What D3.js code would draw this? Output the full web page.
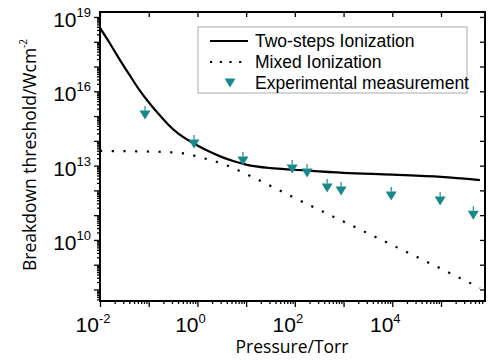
<!DOCTYPE html>
<html>
<head>
<meta charset="utf-8">
<script src="https://cdn.jsdelivr.net/npm/d3@7"></script>
<style>
  body { margin: 0; background: #fff; }
  svg { display: block; }
</style>
</head>
<body>
<div id="chart"></div>
<script>
// Two-steps ionization (solid)
const twoStepP = [0.01, 0.016, 0.025, 0.04, 0.063, 0.1, 0.16, 0.25, 0.4, 0.63, 1, 1.8, 3.2, 5.6, 10, 32, 100, 1000, 1e4, 1e5, 6.3e5];
const twoStepI = [3.6e18, 8.5e17, 2.0e17, 4.7e16, 1.2e16, 3.6e15, 1.2e15, 4.6e14, 2.0e14, 1.1e14, 6.5e13, 3.6e13, 2.2e13, 1.5e13, 1.1e13, 7.9e12, 6.8e12, 5.1e12, 4.3e12, 3.5e12, 2.6e12];

// Mixed ionization (dotted)
const mixedP = [0.01, 0.1, 0.25, 0.63, 1, 1.8, 3.2, 5.6, 10, 32, 100, 1000, 1e4, 1e5, 6.3e5];
const mixedI = [3.9e13, 3.7e13, 3.5e13, 2.95e13, 2.3e13, 1.7e13, 1.2e13, 7.7e12, 4.6e12, 1.5e12, 4.9e11, 5.5e10, 6.2e9, 6.9e8, 1.15e8];

// Experimental measurement (triangles)
const expP = [0.084, 0.85, 8.6, 88, 178, 460, 890, 9500, 9.6e4, 4.6e5];
const expI = [1.1e15, 7.5e13, 1.54e13, 7.3e12, 5.0e12, 1.25e12, 9.4e11, 5.9e11, 3.7e11, 1.0e11];

const xLabelExps = [-2, 0, 2, 4];
const yLabelExps = [10, 13, 16, 19];
const legendLabels = ['Two-steps Ionization', 'Mixed Ionization', 'Experimental measurement'];

const W = 490, H = 362;
const pLeft = 100, pRight = 485, pTop = 12, pBottom = 301;
const teal = '#17898a';

const svg = d3.select('#chart').append('svg')
  .attr('width', W).attr('height', H);

const x = d3.scaleLog().domain([1e-2, 8e5]).range([pLeft, pRight]);
const y = d3.scaleLog().domain([Math.pow(10, 7.535), Math.pow(10, 19.2)]).range([pBottom, pTop]);

// tick positions for log axes
function decades(scale) {
  const [a, b] = scale.domain();
  const out = [];
  for (let k = Math.ceil(Math.log10(a)); k <= Math.floor(Math.log10(b)); k++) out.push(Math.pow(10, k));
  return out;
}
function minors(scale) {
  const [a, b] = scale.domain();
  const out = [];
  for (let k = Math.floor(Math.log10(a)); k <= Math.ceil(Math.log10(b)); k++) {
    for (let m = 2; m <= 9; m++) {
      const v = m * Math.pow(10, k);
      if (v > a && v < b) out.push(v);
    }
  }
  return out;
}

const axisFont = 'Liberation Sans, Arial, sans-serif';

// bottom axis
svg.append('g').attr('transform', `translate(0,${pBottom})`)
  .call(d3.axisBottom(x).tickValues(minors(x)).tickSize(3).tickFormat(''));
svg.append('g').attr('transform', `translate(0,${pBottom})`)
  .call(d3.axisBottom(x).tickValues(decades(x)).tickSize(6).tickFormat(''));
// left axis
svg.append('g').attr('transform', `translate(${pLeft},0)`)
  .call(d3.axisLeft(y).tickValues(minors(y)).tickSize(3).tickFormat(''));
svg.append('g').attr('transform', `translate(${pLeft},0)`)
  .call(d3.axisLeft(y).tickValues(decades(y)).tickSize(6).tickFormat(''));
// top and right: inward ticks at decades
svg.append('g').attr('transform', `translate(0,${pTop})`)
  .call(d3.axisBottom(x).tickValues(decades(x)).tickSize(5).tickFormat(''));
svg.append('g').attr('transform', `translate(${pRight},0)`)
  .call(d3.axisLeft(y).tickValues(decades(y)).tickSize(5).tickFormat(''));

svg.selectAll('.domain').remove();
svg.selectAll('.tick line').attr('stroke', '#000').attr('stroke-width', 1.3);

// frame
svg.append('rect')
  .attr('x', pLeft).attr('y', pTop)
  .attr('width', pRight - pLeft).attr('height', pBottom - pTop)
  .attr('fill', 'none').attr('stroke', '#000').attr('stroke-width', 2);

// tick labels with superscript exponents
const xl = svg.append('g').selectAll('text').data(xLabelExps).enter().append('text')
  .attr('x', d => x(Math.pow(10, d)) - 7)
  .attr('y', pBottom + 31)
  .attr('text-anchor', 'middle')
  .attr('font-family', axisFont).attr('font-size', 21);
xl.append('tspan').text('10');
xl.append('tspan').attr('dy', -9).attr('font-size', 13).text(d => d);

const yl = svg.append('g').selectAll('text').data(yLabelExps).enter().append('text')
  .attr('x', pLeft - 9)
  .attr('y', d => y(Math.pow(10, d)) + 10)
  .attr('text-anchor', 'end')
  .attr('font-family', axisFont).attr('font-size', 21);
yl.append('tspan').text('10');
yl.append('tspan').attr('dy', -10).attr('font-size', 13).text(d => d);

// axis titles
svg.append('text')
  .attr('x', 292).attr('y', 353)
  .attr('text-anchor', 'middle')
  .attr('font-family', 'Open Sans, sans-serif').attr('font-size', 17.5)
  .text('Pressure/Torr');

const yt = svg.append('text')
  .attr('transform', 'translate(36,155) rotate(-90)')
  .attr('text-anchor', 'middle')
  .attr('font-family', 'Open Sans, sans-serif').attr('font-size', 17.5);
yt.append('tspan').text('Breakdown threshold/Wcm');
yt.append('tspan').attr('dy', -9).attr('font-size', 10).text('-2');

// plot clip
svg.append('clipPath').attr('id', 'clip').append('rect')
  .attr('x', pLeft).attr('y', pTop).attr('width', pRight - pLeft).attr('height', pBottom - pTop);
const plot = svg.append('g').attr('clip-path', 'url(#clip)');

const line = d3.line()
  .x(d => x(d[0])).y(d => y(d[1]))
  .curve(d3.curveMonotoneX);

plot.append('path')
  .datum(d3.zip(twoStepP, twoStepI))
  .attr('d', line)
  .attr('fill', 'none').attr('stroke', '#000').attr('stroke-width', 2.2);

plot.append('path')
  .datum(d3.zip(mixedP, mixedI))
  .attr('d', line)
  .attr('fill', 'none').attr('stroke', '#000').attr('stroke-width', 2.2)
  .attr('stroke-dasharray', '2.2,9.5');

const tri = 'M-5.5,-4.5L5.5,-4.5L0,4.5Z';
const pts = plot.selectAll('.pt').data(d3.zip(expP, expI)).enter().append('g')
  .attr('class', 'pt')
  .attr('transform', d => `translate(${x(d[0])},${y(d[1])})`);
pts.append('line')
  .attr('x1', 0).attr('x2', 0).attr('y1', -4.5).attr('y2', -9)
  .attr('stroke', teal).attr('stroke-width', 1.2);
pts.append('path').attr('d', tri).attr('fill', teal);

// legend
const lg = svg.append('g');
lg.append('rect')
  .attr('x', 198).attr('y', 27).attr('width', 269).attr('height', 66)
  .attr('fill', '#fff').attr('stroke', '#aaa').attr('stroke-width', 1);
const rowY = [41, 62, 83];
lg.append('line').attr('x1', 210).attr('x2', 248).attr('y1', rowY[0]).attr('y2', rowY[0])
  .attr('stroke', '#000').attr('stroke-width', 2.2);
lg.append('line').attr('x1', 210).attr('x2', 248).attr('y1', rowY[1]).attr('y2', rowY[1])
  .attr('stroke', '#000').attr('stroke-width', 2.2).attr('stroke-dasharray', '2.2,7.5');
lg.append('path').attr('d', tri).attr('fill', teal)
  .attr('transform', `translate(230,${rowY[2]})`);
lg.selectAll('.lt').data(legendLabels).enter().append('text')
  .attr('x', 255).attr('y', (d, i) => rowY[i] + 6)
  .attr('font-family', axisFont).attr('font-size', 17.5)
  .text(d => d);
</script>
</body>
</html>
